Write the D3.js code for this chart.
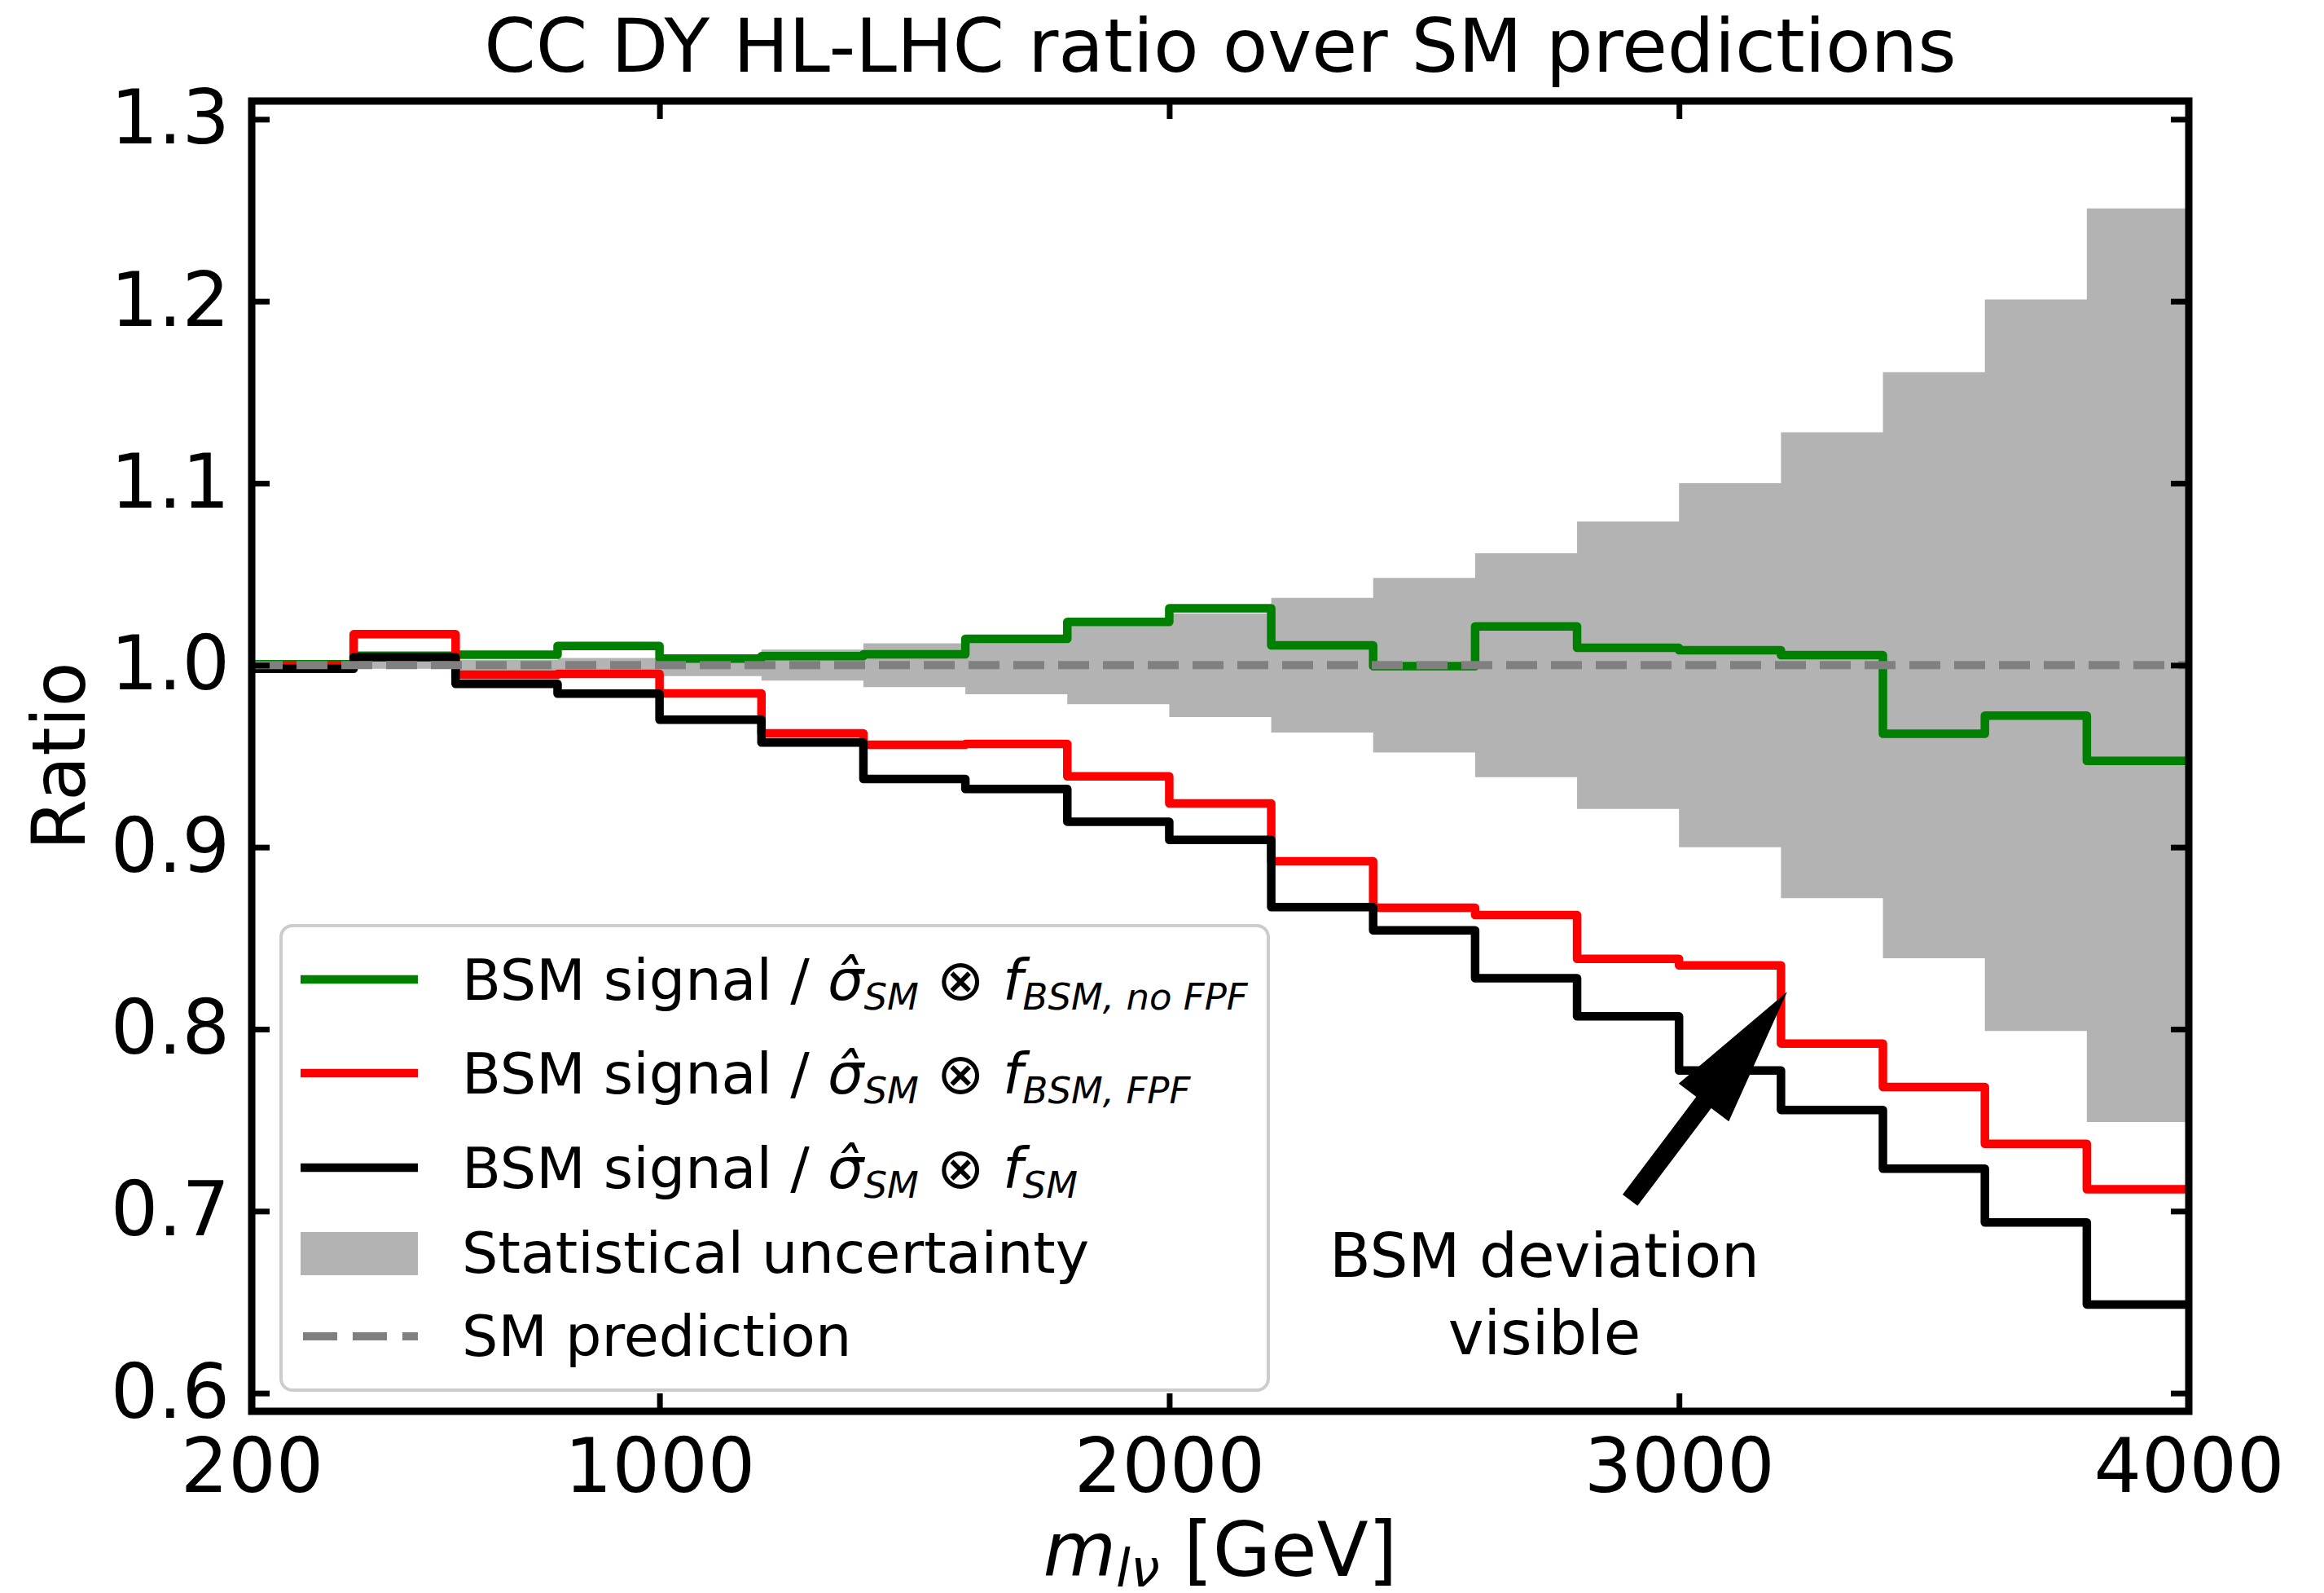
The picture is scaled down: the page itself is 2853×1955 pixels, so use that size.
<!DOCTYPE html>
<html>
<head>
<meta charset="utf-8">
<script src="https://cdn.jsdelivr.net/npm/d3@7"></script>
<style>
  body { margin: 0; background: #fff; }
  svg text { font-family: "DejaVu Sans", sans-serif; fill: #000; }
</style>
</head>
<body>
<svg id="chart" width="2853" height="1955"></svg>
<script>
// m_lnu bin edges [GeV], 200 GeV wide bins
var binEdges = [200, 400, 600, 800, 1000, 1200, 1400, 1600, 1800, 2000,
                2200, 2400, 2600, 2800, 3000, 3200, 3400, 3600, 3800, 4000];

// ratio per bin
var ratioNoFPF = [1.0005, 1.0052, 1.0057, 1.0106, 1.0036, 1.005, 1.006, 1.0145, 1.0238, 1.0313,
                  1.0109, 0.9995, 1.0213, 1.0095, 1.0082, 1.0055, 0.9623, 0.9723, 0.9474];
var ratioFPF   = [0.9995, 1.017, 0.9948, 0.9952, 0.9845, 0.9625, 0.9563, 0.9567, 0.9389, 0.924,
                  0.8922, 0.8667, 0.8627, 0.8386, 0.835, 0.7921, 0.7682, 0.737, 0.712];
var ratioSMpdf = [0.998, 1.0044, 0.9897, 0.9844, 0.970, 0.9575, 0.9375, 0.932, 0.914, 0.904,
                  0.867, 0.8543, 0.828, 0.807, 0.7773, 0.7556, 0.7233, 0.6938, 0.6487];

// relative statistical uncertainty per bin (band around 1)
var statUnc = [0.0015, 0.002, 0.003, 0.004, 0.006, 0.0085, 0.012, 0.016, 0.0215, 0.0285,
               0.037, 0.048, 0.0615, 0.079, 0.100, 0.128, 0.161, 0.201, 0.251];

var smLevel = 1.0;
var xTicks = [200, 1000, 2000, 3000, 4000];
var yTicks = [0.6, 0.7, 0.8, 0.9, 1.0, 1.1, 1.2, 1.3];

var seriesColors = ["green", "red", "black"];

// annotation (data coords)
var annotLines = ["BSM deviation", "visible"];
var annotTextAt = [2736, 0.664];
var arrowTip = [3212, 0.8205];
var arrowTail = [2904, 0.706];

var svg = d3.select("#chart");

// note: "top" is taken by window.top, so prefix everything
var pLeft = 309, pRight = 2687, pTop = 124, pBottom = 1732;

var x = d3.scaleLinear().domain([200, 4000]).range([pLeft, pRight]);
var y = d3.scaleLinear().domain([0.59, 1.31]).range([pBottom, pTop]);

svg.append("defs").append("clipPath").attr("id", "plotclip")
  .append("rect")
  .attr("x", pLeft).attr("y", pTop)
  .attr("width", pRight - pLeft).attr("height", pBottom - pTop);

var plot = svg.append("g").attr("clip-path", "url(#plotclip)");

// step points: one per bin start, plus the closing edge
function stepPoints(vals) {
  var pts = vals.map(function(v, i) { return [binEdges[i], v]; });
  pts.push([binEdges[binEdges.length - 1], vals[vals.length - 1]]);
  return pts;
}

// statistical band
var bandPts = stepPoints(statUnc);
var band = d3.area()
  .curve(d3.curveStepAfter)
  .x(function(d) { return x(d[0]); })
  .y0(function(d) { return y(smLevel - d[1]); })
  .y1(function(d) { return y(smLevel + d[1]); });

plot.append("path")
  .attr("d", band(bandPts))
  .style("fill", "#b3b3b3");

var line = d3.line()
  .curve(d3.curveStepAfter)
  .x(function(d) { return x(d[0]); })
  .y(function(d) { return y(d[1]); });

var allSeries = [ratioNoFPF, ratioFPF, ratioSMpdf];
plot.selectAll("path.ratio")
  .data(allSeries)
  .enter()
  .append("path")
  .attr("class", "ratio")
  .attr("d", function(d) { return line(stepPoints(d)); })
  .style("fill", "none")
  .style("stroke", function(d, i) { return seriesColors[i]; })
  .style("stroke-width", 10.5)
  .style("stroke-linejoin", "round");

// SM prediction
plot.append("line")
  .attr("x1", x(200)).attr("x2", x(4000))
  .attr("y1", y(smLevel)).attr("y2", y(smLevel))
  .style("stroke", "#808080")
  .style("stroke-width", 10)
  .style("stroke-dasharray", "38,17");

// axes, ticks pointing in
var tickLen = 22;
var xAxisB = svg.append("g").attr("transform", "translate(0," + pBottom + ")")
  .call(d3.axisBottom(x).tickValues(xTicks).tickSize(-tickLen).tickPadding(34).tickFormat(d3.format("d")));
var xAxisT = svg.append("g").attr("transform", "translate(0," + pTop + ")")
  .call(d3.axisTop(x).tickValues(xTicks).tickSize(-tickLen).tickFormat(""));
var yAxisL = svg.append("g").attr("transform", "translate(" + pLeft + ",0)")
  .call(d3.axisLeft(y).tickValues(yTicks).tickSize(-tickLen).tickPadding(27).tickFormat(d3.format(".1f")));
var yAxisR = svg.append("g").attr("transform", "translate(" + pRight + ",0)")
  .call(d3.axisRight(y).tickValues(yTicks).tickSize(-tickLen).tickFormat(""));

[xAxisB, xAxisT, yAxisL, yAxisR].forEach(function(a) {
  a.select(".domain").remove();
  a.selectAll(".tick line").style("stroke", "#000").style("stroke-width", 7);
  a.selectAll(".tick text").style("font-size", "92px").style("font-family", "DejaVu Sans");
});

svg.append("rect")
  .attr("x", pLeft).attr("y", pTop)
  .attr("width", pRight - pLeft).attr("height", pBottom - pTop)
  .style("fill", "none")
  .style("stroke", "#000")
  .style("stroke-width", 9);

// title + axis labels
svg.append("text")
  .attr("x", (pLeft + pRight) / 2).attr("y", 88)
  .attr("text-anchor", "middle")
  .style("font-size", "91px")
  .text("CC DY HL-LHC ratio over SM predictions");

svg.append("text")
  .attr("transform", "translate(104," + ((pTop + pBottom) / 2) + ") rotate(-90)")
  .attr("text-anchor", "middle")
  .style("font-size", "90px")
  .text("Ratio");

var xlab = svg.append("text")
  .attr("x", (pLeft + pRight) / 2).attr("y", 1934)
  .attr("text-anchor", "middle")
  .style("font-size", "92px");
xlab.append("tspan").style("font-style", "italic").text("m");
xlab.append("tspan").style("font-style", "italic").style("font-size", "64px").attr("dy", 13).text("l\u03bd");
xlab.append("tspan").attr("dy", -13).text(" [GeV]");

// annotation arrow, drawn as a filled polygon
var p0 = [x(arrowTail[0]), y(arrowTail[1])];
var p1 = [x(arrowTip[0]), y(arrowTip[1])];
var dx = p1[0] - p0[0], dy = p1[1] - p0[1];
var len = Math.sqrt(dx * dx + dy * dy);
var ux = dx / len, uy = dy / len;
var nx = -uy, ny = ux;
var shaftW = 11.5, headW = 38.5, headL = 170;
var bx = p1[0] - ux * headL, by = p1[1] - uy * headL;
var arrowPoly = [
  [p0[0] + nx * shaftW, p0[1] + ny * shaftW],
  [bx + nx * shaftW, by + ny * shaftW],
  [bx + nx * headW, by + ny * headW],
  p1,
  [bx - nx * headW, by - ny * headW],
  [bx - nx * shaftW, by - ny * shaftW],
  [p0[0] - nx * shaftW, p0[1] - ny * shaftW]
];
svg.append("polygon")
  .attr("points", arrowPoly.map(function(p) { return p.join(","); }).join(" "))
  .style("fill", "#000");

svg.selectAll("text.annot")
  .data(annotLines)
  .enter()
  .append("text")
  .attr("class", "annot")
  .attr("x", x(annotTextAt[0]))
  .attr("y", function(d, i) { return y(annotTextAt[1]) + i * 95; })
  .attr("text-anchor", "middle")
  .style("font-size", "74px")
  .text(function(d) { return d; });

// legend
var lg = svg.append("g");
lg.append("rect")
  .attr("x", 345).attr("y", 1136)
  .attr("width", 1212).attr("height", 570)
  .attr("rx", 14)
  .style("fill", "#fff").style("fill-opacity", 0.8)
  .style("stroke", "#cccccc").style("stroke-width", 4);

// parts: [text, kind] kind 0 = roman, 1 = italic, 2 = italic subscript
var legendLabels = [
  [["BSM signal / ", 0], ["\u03c3\u0302", 1], ["SM", 2], [" \u2297 ", 0], ["f", 1], ["BSM, no FPF", 2]],
  [["BSM signal / ", 0], ["\u03c3\u0302", 1], ["SM", 2], [" \u2297 ", 0], ["f", 1], ["BSM, FPF", 2]],
  [["BSM signal / ", 0], ["\u03c3\u0302", 1], ["SM", 2], [" \u2297 ", 0], ["f", 1], ["SM", 2]],
  [["Statistical uncertainty", 0]],
  [["SM prediction", 0]]
];
var legendBase = [1227, 1342, 1458, 1562, 1664];
var handleY = [1202, 1317, 1433, 1538, 1640];

legendLabels.forEach(function(parts, r) {
  var t = lg.append("text")
    .attr("x", 567).attr("y", legendBase[r])
    .style("font-size", "70px");
  var shift = 0;
  parts.forEach(function(p) {
    var want = p[1] == 2 ? 12 : 0;
    var ts = t.append("tspan").attr("dy", want - shift).text(p[0]);
    if (p[1] >= 1) ts.style("font-style", "italic");
    if (p[1] == 2) ts.style("font-size", "45px");
    shift = want;
  });

  if (r < 3) {
    lg.append("line")
      .attr("x1", 369).attr("x2", 513)
      .attr("y1", handleY[r]).attr("y2", handleY[r])
      .style("stroke", seriesColors[r]).style("stroke-width", 10.5);
  } else if (r == 3) {
    lg.append("rect")
      .attr("x", 369).attr("y", 1512)
      .attr("width", 144).attr("height", 53)
      .style("fill", "#b3b3b3");
  } else {
    lg.append("line")
      .attr("x1", 372).attr("x2", 513)
      .attr("y1", handleY[r]).attr("y2", handleY[r])
      .style("stroke", "#808080").style("stroke-width", 10)
      .style("stroke-dasharray", "42,19");
  }
});
</script>
</body>
</html>
